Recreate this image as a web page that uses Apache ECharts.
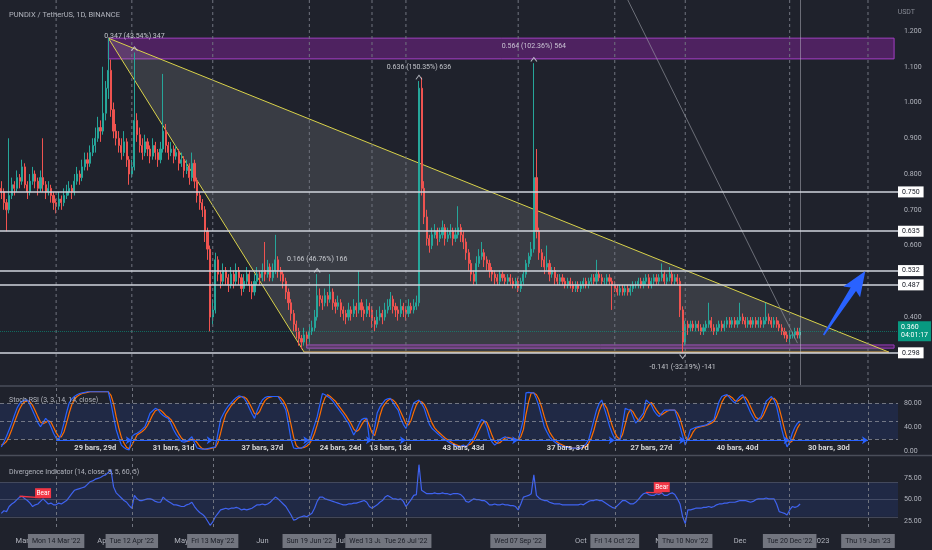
<!DOCTYPE html>
<html><head><meta charset="utf-8">
<script src="https://cdn.jsdelivr.net/npm/echarts@6/dist/echarts.min.js"></script>
<style>html,body{margin:0;padding:0;background:#1f222c;}#c{width:932px;height:550px;}</style>
</head><body><div id="c"></div>
<script>
// ---- price data (daily, from 2022-02-21) ----
const firstOpen = 0.76;
const closes = [
0.75,0.72,0.70,0.74,0.77,0.76,0.79,0.78,0.82,0.77,
0.75,0.78,0.80,0.78,0.76,0.79,0.77,0.75,0.76,0.74,
0.72,0.71,0.73,0.72,0.74,0.75,0.76,0.75,0.78,0.80,
0.79,0.82,0.84,0.83,0.86,0.88,0.90,0.93,0.92,0.97,
1.04,1.09,0.98,0.92,0.90,0.88,0.86,0.89,0.84,0.80,
0.82,0.95,0.91,0.88,0.86,0.89,0.87,0.85,0.88,0.86,
0.84,0.87,0.92,0.88,0.86,0.87,0.85,0.86,0.83,0.84,
0.81,0.82,0.79,0.83,0.78,0.74,0.72,0.70,0.64,0.59,
0.40,0.42,0.56,0.52,0.50,0.53,0.51,0.49,0.52,0.50,
0.53,0.51,0.48,0.50,0.52,0.49,0.47,0.50,0.52,0.51,
0.53,0.52,0.54,0.51,0.53,0.56,0.53,0.52,0.50,0.47,
0.44,0.41,0.38,0.36,0.34,0.33,0.35,0.34,0.36,0.37,
0.40,0.46,0.45,0.44,0.46,0.45,0.47,0.44,0.43,0.44,
0.42,0.41,0.40,0.42,0.41,0.43,0.42,0.44,0.42,0.41,
0.43,0.42,0.39,0.38,0.40,0.41,0.40,0.42,0.43,0.45,
0.43,0.42,0.41,0.43,0.42,0.41,0.43,0.42,0.43,0.44,
1.04,0.76,0.68,0.62,0.60,0.63,0.64,0.62,0.63,0.65,
0.62,0.63,0.64,0.62,0.63,0.65,0.63,0.61,0.58,0.55,
0.52,0.50,0.55,0.57,0.58,0.56,0.55,0.53,0.52,0.51,
0.50,0.52,0.51,0.50,0.51,0.50,0.49,0.50,0.48,0.50,
0.52,0.55,0.57,0.59,0.79,0.64,0.58,0.56,0.54,0.55,
0.52,0.53,0.51,0.50,0.51,0.50,0.49,0.50,0.49,0.48,
0.49,0.48,0.49,0.50,0.49,0.50,0.51,0.50,0.52,0.51,
0.50,0.50,0.51,0.50,0.49,0.48,0.47,0.48,0.47,0.48,
0.47,0.48,0.49,0.49,0.50,0.49,0.50,0.51,0.49,0.50,
0.51,0.50,0.51,0.52,0.50,0.51,0.52,0.50,0.51,0.50,
0.42,0.33,0.38,0.37,0.38,0.37,0.38,0.37,0.36,0.37,
0.38,0.39,0.37,0.36,0.37,0.38,0.37,0.38,0.39,0.38,
0.39,0.38,0.39,0.40,0.39,0.38,0.39,0.38,0.39,0.38,
0.39,0.38,0.39,0.40,0.39,0.38,0.39,0.38,0.37,0.36,
0.35,0.34,0.35,0.35,0.36,0.35,0.36];
const highs = [
0.78,0.76,0.73,0.90,0.79,0.78,0.81,0.80,0.84,0.83,
0.78,0.80,0.82,0.81,0.79,0.81,0.90,0.78,0.78,0.77,
0.75,0.73,0.75,0.74,0.76,0.77,0.78,0.77,0.80,0.82,
0.81,0.84,0.86,0.86,0.88,0.90,0.93,0.96,0.95,1.10,
1.06,1.18,1.12,1.00,0.94,0.92,0.90,0.92,0.90,0.85,
0.84,1.14,0.97,0.93,0.90,0.91,0.90,0.88,0.90,0.89,
0.87,0.89,1.08,0.94,0.89,0.89,0.88,0.88,0.87,0.86,
0.85,0.84,0.83,0.86,0.84,0.79,0.75,0.73,0.71,0.65,
0.60,0.45,0.58,0.57,0.53,0.55,0.54,0.52,0.54,0.53,
0.55,0.54,0.52,0.52,0.54,0.53,0.50,0.52,0.54,0.53,
0.55,0.61,0.56,0.55,0.55,0.63,0.57,0.54,0.53,0.51,
0.48,0.45,0.42,0.39,0.37,0.35,0.37,0.36,0.38,0.39,
0.42,0.52,0.48,0.46,0.48,0.47,0.52,0.48,0.45,0.46,
0.45,0.43,0.42,0.44,0.43,0.45,0.44,0.53,0.45,0.43,
0.45,0.44,0.43,0.40,0.42,0.43,0.42,0.44,0.45,0.47,
0.46,0.44,0.43,0.45,0.44,0.43,0.45,0.44,0.45,0.46,
1.06,1.07,0.78,0.70,0.63,0.65,0.66,0.65,0.65,0.67,
0.66,0.65,0.66,0.65,0.65,0.71,0.66,0.64,0.62,0.59,
0.56,0.53,0.57,0.59,0.61,0.59,0.57,0.56,0.54,0.53,
0.52,0.53,0.53,0.52,0.52,0.52,0.51,0.51,0.51,0.51,
0.53,0.56,0.58,0.61,1.11,0.87,0.65,0.59,0.57,0.60,
0.56,0.54,0.54,0.52,0.52,0.52,0.51,0.51,0.51,0.50,
0.50,0.50,0.50,0.51,0.51,0.51,0.52,0.52,0.56,0.53,
0.52,0.51,0.52,0.52,0.51,0.50,0.49,0.49,0.49,0.49,
0.49,0.49,0.50,0.50,0.51,0.51,0.51,0.52,0.52,0.51,
0.52,0.52,0.52,0.55,0.53,0.52,0.54,0.53,0.52,0.52,
0.51,0.43,0.39,0.39,0.39,0.39,0.39,0.39,0.38,0.38,
0.39,0.44,0.40,0.38,0.38,0.39,0.39,0.39,0.40,0.40,
0.40,0.40,0.40,0.44,0.41,0.40,0.40,0.40,0.40,0.40,
0.40,0.40,0.40,0.44,0.41,0.40,0.40,0.40,0.39,0.38,
0.37,0.36,0.36,0.36,0.37,0.37,0.37];
const lows = [
0.73,0.70,0.64,0.69,0.73,0.74,0.75,0.76,0.77,0.76,
0.73,0.74,0.77,0.76,0.74,0.75,0.75,0.73,0.74,0.72,
0.70,0.69,0.70,0.70,0.71,0.73,0.74,0.73,0.74,0.77,
0.77,0.78,0.81,0.81,0.82,0.85,0.86,0.89,0.89,0.91,
0.95,1.01,0.96,0.90,0.88,0.86,0.84,0.85,0.82,0.77,
0.79,0.81,0.89,0.86,0.84,0.85,0.85,0.83,0.84,0.84,
0.82,0.83,0.86,0.86,0.84,0.85,0.83,0.84,0.81,0.82,
0.79,0.80,0.77,0.78,0.76,0.72,0.70,0.68,0.61,0.56,
0.36,0.38,0.41,0.50,0.48,0.49,0.49,0.47,0.48,0.48,
0.49,0.49,0.46,0.47,0.49,0.47,0.45,0.46,0.49,0.49,
0.50,0.50,0.51,0.50,0.50,0.52,0.51,0.50,0.48,0.45,
0.42,0.39,0.36,0.34,0.32,0.31,0.32,0.32,0.33,0.35,
0.36,0.39,0.43,0.42,0.43,0.43,0.44,0.42,0.41,0.42,
0.40,0.39,0.38,0.39,0.39,0.40,0.40,0.41,0.40,0.39,
0.40,0.40,0.37,0.36,0.37,0.39,0.38,0.39,0.41,0.42,
0.41,0.40,0.39,0.40,0.40,0.39,0.40,0.41,0.41,0.42,
0.43,0.74,0.66,0.60,0.58,0.59,0.62,0.60,0.61,0.62,
0.60,0.61,0.62,0.60,0.61,0.62,0.61,0.59,0.56,0.53,
0.50,0.49,0.49,0.54,0.56,0.54,0.53,0.51,0.50,0.49,
0.49,0.49,0.50,0.49,0.49,0.49,0.48,0.48,0.47,0.47,
0.49,0.51,0.54,0.56,0.58,0.62,0.56,0.54,0.52,0.53,
0.50,0.51,0.49,0.49,0.49,0.49,0.48,0.48,0.48,0.47,
0.47,0.47,0.47,0.48,0.48,0.48,0.49,0.49,0.49,0.50,
0.49,0.49,0.49,0.49,0.42,0.47,0.46,0.46,0.46,0.46,
0.46,0.46,0.47,0.48,0.48,0.48,0.48,0.49,0.48,0.48,
0.49,0.49,0.49,0.50,0.49,0.49,0.50,0.49,0.49,0.49,
0.40,0.30,0.32,0.35,0.36,0.36,0.36,0.36,0.35,0.35,
0.36,0.37,0.36,0.35,0.35,0.36,0.36,0.36,0.37,0.37,
0.37,0.37,0.37,0.38,0.38,0.37,0.37,0.37,0.37,0.37,
0.37,0.37,0.37,0.38,0.38,0.37,0.37,0.37,0.36,0.35,
0.34,0.33,0.33,0.34,0.34,0.34,0.34];
// ---- Stoch RSI ----
const stochK = [
7,15,25,36,47,60,72,80,84,86, 86,78,68,58,48,41,48,55,50,41,
30,22,20,30,47,65,81,88,92,95, 97,98,99,100,100,100,100,100,100,100,
100,100,81,58,36,22,10,6,3,2, 24,28,30,33,37,41,52,64,68,72,
70,64,60,57,55,46,36,28,22,16, 15,16,20,24,14,5,4,3,3,4,
5,6,7,30,53,62,70,76,81,86, 90,93,92,89,82,72,63,55,68,78,
86,90,92,92,92,92,92,85,78,69, 45,19,5,4,5,5,8,12,16,30,
44,58,78,97,95,92,89,84,78,72, 66,60,53,47,37,27,35,45,53,55,
55,19,19,40,64,74,80,86,88,89, 82,75,69,55,45,38,50,68,81,84,
86,80,72,58,45,38,34,30,26,22, 19,16,13,11,9,7,8,10,7,12,
18,24,35,45,53,51,40,24,15,10, 14,19,22,24,22,21,20,19,19,35,
53,98,99,98,98,88,75,58,41,32, 24,19,15,12,10,8,7,6,5,5,
5,5,5,8,12,19,35,52,69,80, 86,72,58,42,30,21,19,19,45,72,
70,69,58,47,52,58,64,86,82,78, 68,62,58,64,69,69,69,69,69,55,
41,25,10,22,36,38,40,41,42,43, 44,47,50,53,70,84,92,94,95,90,
85,81,87,92,95,85,75,65,57,50, 54,58,70,84,88,92,86,75,55,36,
20,7,15,30,40,47,50];
const stochD = [
10,12,16,25,36,48,60,71,79,83, 85,83,77,68,58,49,46,48,51,49,
40,31,24,24,32,47,64,78,87,92, 95,97,98,99,100,100,100,100,100,100,
100,100,94,80,58,39,23,13,6,4, 10,18,27,30,33,37,43,52,61,68,
70,69,65,60,57,53,46,37,29,22, 18,16,17,20,19,14,8,4,3,3,
4,5,6,14,30,48,62,69,76,81, 86,90,92,91,88,81,72,63,62,67,
77,85,89,91,92,92,92,90,85,77, 64,44,23,9,5,5,6,8,12,19,
30,44,60,78,90,95,92,88,84,78, 72,66,60,53,46,37,33,36,44,51,
54,43,31,26,41,59,73,80,85,88, 86,82,75,66,56,46,44,52,66,78,
84,83,79,70,58,47,39,34,30,26, 22,19,16,13,11,9,8,8,8,10,
12,18,26,35,44,50,48,38,26,16, 13,14,18,22,23,22,21,20,19,24,
36,62,83,98,98,95,87,74,58,44, 32,25,19,15,12,10,8,7,6,5,
5,5,5,6,8,13,22,35,52,67, 78,79,72,57,43,31,23,20,28,45,
62,70,66,58,52,52,58,69,77,82, 76,69,63,61,64,67,69,69,69,64,
55,40,25,19,23,32,38,40,41,42, 43,45,47,50,58,69,82,90,94,93,
90,85,84,87,91,91,85,75,66,57, 54,54,61,71,81,88,89,84,72,55,
37,21,14,17,28,39,46];
// ---- Divergence indicator (RSI) ----
const rsi = [
34,37,36,42,45,47,50,53,54,51, 49,46,42,44,45,48,51,48,45,46,
44,44,46,45,47,49,53,57,61,62, 63,64,65,68,71,72,74,75,76,78,
79,82,85,65,58,55,52,49,47,43, 40,55,51,49,49,50,51,51,50,48,
47,47,53,50,48,46,44,44,43,42, 42,44,45,47,42,38,35,33,30,25,
20,24,30,34,38,39,40,39,40,40, 41,40,38,39,38,39,40,42,44,44,
45,44,45,47,50,53,51,48,45,42, 37,32,26,27,29,30,31,30,32,34,
40,48,53,53,51,50,49,48,47,46, 45,44,44,45,45,46,46,47,48,49,
47,42,40,42,44,47,49,53,55,53, 51,51,50,51,48,42,46,50,55,56,
91,61,59,57,57,57,58,57,57,58, 57,57,56,57,57,57,56,53,48,47,
49,51,50,50,49,49,47,44,44,45, 44,44,45,44,44,43,43,42,38,45,
53,54,55,57,79,55,52,50,49,49, 47,46,45,45,45,44,44,44,44,44,
44,44,45,44,46,48,49,49,50,49, 49,47,45,43,41,40,43,46,49,49,
47,45,45,47,50,54,57,58,56,55, 55,57,56,58,55,55,57,58,56,51,
45,30,22,38,38,39,40,40,40,41, 41,42,41,42,44,45,45,46,46,47,
47,47,48,49,49,49,48,47,48,50, 51,51,51,52,51,51,51,45,36,35,
34,32,38,42,41,42,45];
// ---- ticks, levels, annotations ----
const priceTicks = [0.4,0.6,0.7,0.8,0.9,1.0,1.1,1.2];
const stochTicks = [0,40,80];
const rsiTicks = [25,50,75];
const levels = [0.750,0.635,0.532,0.487,0.298];
const lastPrice = 0.360;
const lastLabel = '0.360\n04:01:17';
const monthTicks = [[8,'Mar'],[39,'Apr'],[69,'May'],[100,'Jun'],[130,'Jul'],[161,'Aug'],[192,'Sep'],[222,'Oct'],[253,'Nov'],[283,'Dec'],[314,'2023']];
const rangeDates = [[21,"Mon 14 Mar '22"],[50,"Tue 12 Apr '22"],[81,"Fri 13 May '22"],[118,"Sun 19 Jun '22"],[142,"Wed 13 Jul '22"],[155,"Tue 26 Jul '22"],[198,"Wed 07 Sep '22"],[235,"Fri 14 Oct '22"],[262,"Thu 10 Nov '22"],[302,"Tue 20 Dec '22"],[332,"Thu 19 Jan '23"]];
const rangeLabels = ['29 bars, 29d','31 bars, 31d','37 bars, 37d','24 bars, 24d','13 bars, 13d','43 bars, 43d','37 bars, 37d','27 bars, 27d','40 bars, 40d','30 bars, 30d'];
const triangle = [[41,1.18],[116,0.302],[340,0.302]];
const topZone = [[41,1.180],[342,1.122]];
const bottomZone = [[117,0.322],[342,0.313]];
const diagonal = [[240,1.2867],[305,0.327]];
const arrowPts = [[315,0.350],[331,0.529]];
const measures = [[51,1.186,'0.347 (43.54%) 347'],[160,1.099,'0.636 (150.35%) 636'],[204,1.158,'0.564 (102.36%) 564'],[121,0.562,'0.166 (46.76%) 166'],[261,0.260,'-0.141 (-32.19%) -141']];
const measureMarks = [[51,1.14,0],[160,1.06,0],[204,1.11,0],[121,0.52,0],[261,0.30,180]];
const bearLines = [[[7,54],[15,52.5]],[[247,58.5],[253,58]]];
const bearLabels = [[16,57.6],[253,64.7]];
const crossIdx = 306;

const PMIN = 0.21, PMAX = 1.2867;
const N = 344;
const cats = [];
for (let k = 0; k < N; k++) { const d = new Date(Date.UTC(2022,1,21+k)); cats.push(d.toISOString().slice(0,10)); }
const ohlc = closes.map((c,i)=>[i===0?firstOpen:closes[i-1], c, lows[i], highs[i]]);
const monthMap = new Map(monthTicks);
const rangeMap = new Map(rangeDates);
const FONT = '"Liberation Sans Narrow", Roboto, sans-serif';
const GRAY = '#b2b5be';
const DASH = '#70747f';

const vDashed = idxs => idxs.map(i=>({xAxis:i, label:{show:false}, lineStyle:{color:DASH, type:[3,3], width:1}}));
const rangeIdx = rangeDates.map(r=>r[0]);

const chart = echarts.init(document.getElementById('c'));
const option = {
  animation:false,
  backgroundColor:'#1f222c',
  textStyle:{fontFamily:FONT},
  title:[
    {text:'PUNDIX / TetherUS, 1D, BINANCE', left:4, top:6, textStyle:{color:GRAY, fontSize:7.5, fontWeight:'normal', fontFamily:FONT}},
    {text:'USDT', right:12, top:4, textStyle:{color:'#868993', fontSize:7, fontWeight:'normal', fontFamily:FONT}},
    {text:'Stoch RSI (3, 3, 14, 14, close)', left:4, top:392, textStyle:{color:GRAY, fontSize:7, fontWeight:'normal', fontFamily:FONT}},
    {text:'Divergence Indicator (14, close, 5, 5, 60, 5)', left:4, top:464, textStyle:{color:GRAY, fontSize:7, fontWeight:'normal', fontFamily:FONT}}
  ],
  grid:[
    {left:0, right:34, top:0, height:385},
    {left:0, right:34, top:387, height:64},
    {left:0, right:34, top:457, height:70}
  ],
  graphic:[
    {type:'line', shape:{x1:0,y1:386,x2:932,y2:386}, style:{stroke:'#4a4e5a', lineWidth:1.5}, z:50},
    {type:'line', shape:{x1:0,y1:455.5,x2:932,y2:455.5}, style:{stroke:'#4a4e5a', lineWidth:1.5}, z:50}
  ],
  xAxis:[
    {type:'category', gridIndex:0, data:cats, show:false, boundaryGap:true},
    {type:'category', gridIndex:1, data:cats, show:false, boundaryGap:true},
    {type:'category', gridIndex:2, data:cats, position:'bottom', boundaryGap:true,
      axisLine:{show:false}, axisTick:{show:false}, splitLine:{show:false},
      axisLabel:{interval:(i)=>monthMap.has(i), formatter:(v,i)=>monthMap.get(i)||'', color:GRAY, fontSize:7.5, margin:10, fontFamily:FONT}},
    {type:'category', gridIndex:2, data:cats, position:'bottom', boundaryGap:true, z:10,
      axisLine:{show:false}, axisTick:{show:false}, splitLine:{show:false},
      axisLabel:{interval:(i)=>rangeMap.has(i), formatter:(v,i)=>rangeMap.get(i)||'', color:'#1b1e27', backgroundColor:'#72757f', padding:[4,4,3,4], fontSize:7, margin:7, fontFamily:FONT}}
  ],
  yAxis:[
    {type:'value', gridIndex:0, min:PMIN, max:PMAX, position:'right', splitLine:{show:false}, axisLine:{show:false}, axisTick:{show:false},
      axisLabel:{customValues:priceTicks, formatter:v=>v.toFixed(3), color:GRAY, fontSize:7, margin:6, fontFamily:FONT}},
    {type:'value', gridIndex:1, min:0, max:108, position:'right', splitLine:{show:false}, axisLine:{show:false}, axisTick:{show:false},
      axisLabel:{customValues:stochTicks, formatter:v=>v.toFixed(2), color:GRAY, fontSize:7, margin:6, fontFamily:FONT}},
    {type:'value', gridIndex:2, min:18, max:100, position:'right', splitLine:{show:false}, axisLine:{show:false}, axisTick:{show:false},
      axisLabel:{customValues:rsiTicks, formatter:v=>v.toFixed(2), color:GRAY, fontSize:7, margin:6, fontFamily:FONT}}
  ],
  series:[
    {type:'custom', xAxisIndex:0, yAxisIndex:0, z:4, silent:true, data:[[0,0]],
      renderItem:(params, api)=>({type:'group', children:rangeIdx.map(i=>{
        const t = api.coord([i, PMAX]), b = api.coord([i, PMIN]);
        return {type:'line', shape:{x1:t[0],y1:t[1],x2:b[0],y2:b[1]}, style:{stroke:DASH, lineWidth:1, lineDash:[3,3], fill:null}};
      })})},
    {type:'custom', xAxisIndex:0, yAxisIndex:0, z:1, silent:true, data:[[0,0]],
      renderItem:(params, api)=>{
        const p = triangle.map(t=>api.coord(t));
        return {type:'group', children:[
          {type:'polygon', shape:{points:p}, style:{fill:'rgba(165,165,165,0.2)'}},
          {type:'polyline', shape:{points:[p[1],p[0],p[2]]}, style:{stroke:'#d9d24a', lineWidth:1, fill:null}},
          {type:'line', shape:{x1:p[1][0],y1:p[1][1],x2:p[2][0],y2:p[2][1]}, style:{stroke:'#e3a94c', lineWidth:1.3}}
        ]};
      }},
    {type:'candlestick', name:'PUNDIX', xAxisIndex:0, yAxisIndex:0, z:3, data:ohlc, barWidth:'62%',
      itemStyle:{color:'#26a69a', color0:'#ef5350', borderColor:'#26a69a', borderColor0:'#ef5350', borderWidth:1},
      markArea:{silent:true, data:[
        [{coord:topZone[0], itemStyle:{color:'rgba(142,36,170,0.42)', borderColor:'#a33fc4', borderWidth:1}},{coord:topZone[1]}],
        [{coord:bottomZone[0], itemStyle:{color:'rgba(142,36,170,0.35)', borderColor:'#9c3bbd', borderWidth:1}},{coord:bottomZone[1]}]
      ]},
      markLine:{silent:true, symbol:['none','none'], animation:false, data:[
        {xAxis:crossIdx, label:{show:false}, lineStyle:{color:'rgba(200,202,210,0.45)', type:'solid', width:1}},
        [{coord:diagonal[0], label:{show:false}, lineStyle:{color:'rgba(160,163,172,0.6)', type:'solid', width:1}},{coord:diagonal[1]}],
        {yAxis:lastPrice, label:{show:true, position:'end', distance:0, formatter:lastLabel, color:'#ffffff', backgroundColor:'#089981', padding:[2,3], fontSize:7, lineHeight:8, fontFamily:FONT},
          lineStyle:{color:'rgba(8,153,129,0.6)', type:'dotted', width:1}},
        ...levels.map(v=>({yAxis:v, label:{show:true, position:'end', distance:0, formatter:v.toFixed(3), color:'#131722', backgroundColor:'#ffffff', padding:[2,4], fontSize:7, fontFamily:FONT},
          lineStyle:{color:'#d1d4dc', type:'solid', width:1.5}}))
      ]}},
    {type:'custom', xAxisIndex:0, yAxisIndex:0, z:5, silent:true, data:[[0,0]],
      renderItem:(params, api)=>{
        const a = api.coord(arrowPts[0]), b = api.coord(arrowPts[1]);
        const dx=b[0]-a[0], dy=b[1]-a[1], L=Math.hypot(dx,dy), ux=dx/L, uy=dy/L, nx=-uy, ny=ux;
        const hl=22, hw=10, sw=3.2, tw=0.8;
        const bx=b[0]-ux*hl, by=b[1]-uy*hl;
        const pts=[[a[0]+nx*tw,a[1]+ny*tw],[bx+nx*sw,by+ny*sw],[bx-ux*3+nx*hw,by-uy*3+ny*hw],b,[bx-ux*3-nx*hw,by-uy*3-ny*hw],[bx-nx*sw,by-ny*sw],[a[0]-nx*tw,a[1]-ny*tw]];
        return {type:'polygon', shape:{points:pts}, style:{fill:'#2962ff'}};
      }},
    {type:'scatter', xAxisIndex:0, yAxisIndex:0, z:6, silent:true, symbolSize:0,
      data:measures.map(m=>({value:[m[0],m[1]], label:{show:true, formatter:m[2]}})),
      label:{show:true, position:'inside', color:'#e6e8ee', fontSize:7, fontFamily:FONT}},
    {type:'scatter', xAxisIndex:0, yAxisIndex:0, z:6, silent:true,
      symbol:'path://M0,9 L5,0 L10,9 L8.6,9.8 L5,3 L1.4,9.8 Z', symbolSize:[7,5],
      data:measureMarks.map(m=>({value:[m[0],m[1]], symbolRotate:m[2], symbolOffset:[0, m[2]?4:-4]})),
      itemStyle:{color:'#d8dbe2'}},
    {type:'line', name:'K', xAxisIndex:1, yAxisIndex:1, data:stochK, showSymbol:false, z:3,
      lineStyle:{color:'#2962ff', width:1.2},
      markArea:{silent:true, data:[[{yAxis:20, itemStyle:{color:'rgba(41,98,255,0.12)'}},{yAxis:80}]]},
      markLine:{silent:true, symbol:['none','none'], data:[
        ...vDashed(rangeIdx),
        ...[80,50,20].map(v=>({yAxis:v, label:{show:false}, lineStyle:{color:'rgba(150,153,162,0.7)', type:[4,3], width:1}})),
        ...rangeLabels.map((t,k)=>[{coord:[rangeDates[k][0],18], symbol:'none', label:{show:false}, lineStyle:{color:'#2962ff', type:'solid', width:1}},{coord:[rangeDates[k+1][0],18], symbol:'arrow', symbolSize:6}])
      ]}},
    {type:'line', name:'D', xAxisIndex:1, yAxisIndex:1, data:stochD, showSymbol:false, z:2,
      lineStyle:{color:'#ff6d00', width:1.2}},
    {type:'scatter', xAxisIndex:1, yAxisIndex:1, z:6, silent:true, symbolSize:0,
      data:rangeLabels.map((t,k)=>({value:[Math.round((rangeDates[k][0]+rangeDates[k+1][0])/2),5], label:{show:true, formatter:t}})),
      label:{show:true, position:'inside', color:'#ffffff', fontSize:7.5, fontWeight:'bold', fontFamily:FONT}},
    {type:'line', name:'RSI', xAxisIndex:2, yAxisIndex:2, data:rsi, showSymbol:false, z:3,
      lineStyle:{color:'#3f63f0', width:1.2},
      markArea:{silent:true, data:[[{yAxis:30, itemStyle:{color:'rgba(41,98,255,0.12)'}},{yAxis:70}]]},
      markLine:{silent:true, symbol:['none','none'], data:[
        ...vDashed(rangeIdx),
        ...[70,50,30].map(v=>({yAxis:v, label:{show:false}, lineStyle:{color:'rgba(110,118,140,0.45)', type:'solid', width:1}})),
        ...bearLines.map(l=>[{coord:l[0], label:{show:false}, lineStyle:{color:'#f23645', type:'solid', width:1.3}},{coord:l[1]}])
      ]},
      markPoint:{silent:true, symbol:'rect', symbolSize:[16,10], itemStyle:{color:'#f23645'},
        label:{show:true, formatter:'Bear', color:'#ffffff', fontSize:6.5, fontFamily:FONT},
        data:bearLabels.map(b=>({coord:b}))}}
  ]
};
chart.setOption(option);
</script></body></html>
